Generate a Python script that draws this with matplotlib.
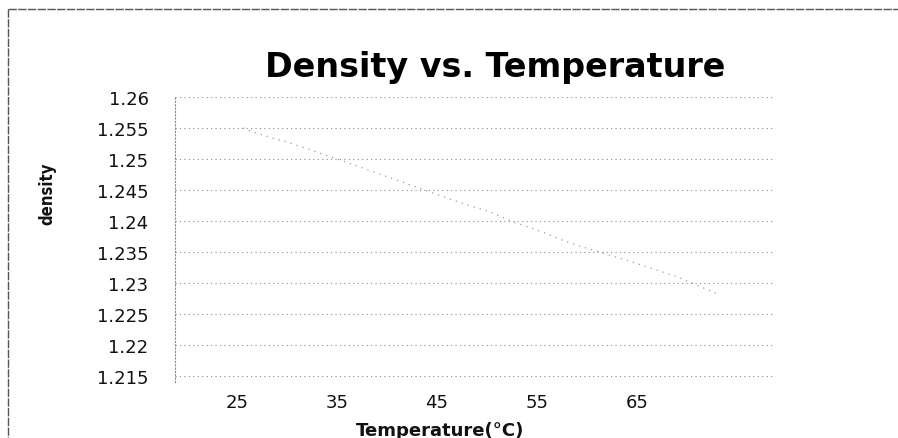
import matplotlib
matplotlib.use("Agg")
import matplotlib.pyplot as plt
from matplotlib.lines import Line2D

# data
temperature = [25.6, 26.5, 28.5, 30.3, 36.8, 46.0, 47.8, 50.1, 52.7, 55.3, 57.7, 59.2, 64.3, 69.0, 73.1]
density = [1.2550, 1.2544, 1.2534, 1.2526, 1.2490, 1.2437, 1.2427, 1.2416, 1.2398, 1.2384,
           1.2368, 1.2360, 1.2335, 1.2310, 1.2282]
y_ticks = [1.215, 1.22, 1.225, 1.23, 1.235, 1.24, 1.245, 1.25, 1.255, 1.26]
y_labels = ["1.215", "1.22", "1.225", "1.23", "1.235", "1.24", "1.245", "1.25", "1.255", "1.26"]
x_ticks = [25, 35, 45, 55, 65]
x_labels = ["25", "35", "45", "55", "65"]

W, H = 898, 439
fig = plt.figure(figsize=(W / 100, H / 100), dpi=100)
fig.patch.set_facecolor("white")

L, R, T, B = 175, 775, 98, 383
ax = fig.add_axes([L / W, 1 - B / H, (R - L) / W, (B - T) / H])
ax.set_xlim(18.8, 78.8)
ax.set_ylim(1.21403, 1.26)

for yv in y_ticks:
    ax.axhline(yv, color="#8a8a8a", lw=0.8, ls=(0, (1, 3)), zorder=1)

ax.plot(temperature, density, color="#9a9a9a", lw=0.9, ls=(0, (1, 4)), zorder=2)

for s in ["top", "right", "bottom"]:
    ax.spines[s].set_visible(False)
ax.spines["left"].set_color("#8a8a8a")
ax.spines["left"].set_linestyle((0, (1, 2)))
ax.spines["left"].set_linewidth(0.8)

ax.set_yticks(y_ticks)
ax.set_yticklabels(y_labels)
ax.set_xticks(x_ticks)
ax.set_xticklabels(x_labels)
ax.tick_params(axis="both", length=0, labelsize=13, colors="#111111")
ax.tick_params(axis="y", pad=19)
ax.tick_params(axis="x", pad=8)
ax.patch.set_alpha(0)

fig.text(495 / W, 1 - 67 / H, "Density vs. Temperature", ha="center", va="center",
         fontsize=24, fontweight="bold", color="#000000")
fig.text(440 / W, 1 - 431 / H, "Temperature(°C)", ha="center", va="center",
         fontsize=13, fontweight="bold", color="#111111")
fig.text(47 / W, 1 - 194 / H, "density", ha="center", va="center", rotation=90,
         fontsize=12, fontweight="bold", fontstretch="condensed", color="#111111",
         family=["DejaVu Sans"])

# outer frame (top and left edges visible in the scan)
fig.add_artist(Line2D([8 / W, 1.0], [1 - 10 / H, 1 - 10 / H], transform=fig.transFigure,
                      color="#555555", lw=1.0, ls=(0, (6, 1))))
fig.add_artist(Line2D([8 / W, 8 / W], [1 - 10 / H, 0.0], transform=fig.transFigure,
                      color="#555555", lw=1.0, ls=(0, (6, 1))))

fig.savefig("out.png", dpi=100, facecolor="white")
